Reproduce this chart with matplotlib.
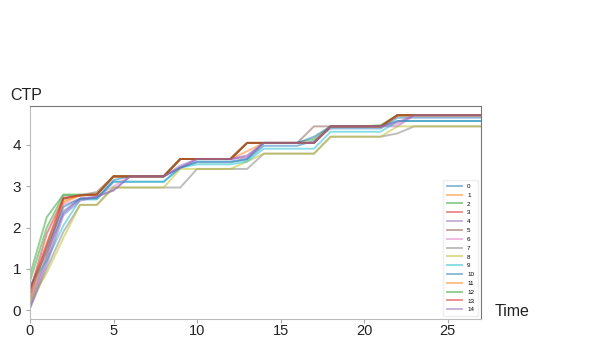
import numpy as np
import matplotlib.pyplot as plt

plt.rcParams['font.family'] = ['Liberation Sans', 'DejaVu Sans']

time = list(range(28))
labels = [str(i) for i in range(15)]

s0 = [0.55, 1.4, 2.35, 2.7, 2.7, 3.11, 3.11, 3.11, 3.11, 3.45, 3.58, 3.58, 3.58, 3.65, 3.98, 3.98, 3.98, 4.1, 4.4, 4.4, 4.4, 4.4, 4.66, 4.66, 4.66, 4.66, 4.66, 4.66]
s1 = [0.3, 1.5, 2.6, 2.78, 2.8, 3.24, 3.24, 3.24, 3.24, 3.66, 3.66, 3.66, 3.66, 3.85, 4.05, 4.05, 4.05, 4.05, 4.45, 4.45, 4.45, 4.45, 4.72, 4.72, 4.72, 4.72, 4.72, 4.72]
s2 = [0.85, 2.25, 2.8, 2.8, 2.8, 3.24, 3.24, 3.24, 3.24, 3.66, 3.66, 3.66, 3.66, 4.05, 4.05, 4.05, 4.05, 4.15, 4.45, 4.45, 4.45, 4.48, 4.72, 4.72, 4.72, 4.72, 4.72, 4.72]
s3 = [0.45, 1.85, 2.7, 2.78, 2.8, 3.24, 3.24, 3.24, 3.24, 3.66, 3.66, 3.66, 3.66, 4.05, 4.05, 4.05, 4.05, 4.05, 4.45, 4.45, 4.45, 4.45, 4.72, 4.72, 4.72, 4.72, 4.72, 4.72]
s4 = [0.1, 1.2, 2.4, 2.7, 2.75, 2.9, 3.24, 3.24, 3.24, 3.5, 3.66, 3.66, 3.66, 3.7, 4.05, 4.05, 4.05, 4.05, 4.45, 4.45, 4.45, 4.45, 4.45, 4.72, 4.72, 4.72, 4.72, 4.72]
s5 = [0.2, 1.3, 2.7, 2.78, 2.86, 3.24, 3.24, 3.24, 3.24, 3.66, 3.66, 3.66, 3.66, 4.05, 4.05, 4.05, 4.05, 4.45, 4.45, 4.45, 4.45, 4.45, 4.72, 4.72, 4.72, 4.72, 4.72, 4.72]
s6 = [0.3, 1.35, 2.55, 2.7, 2.75, 3.0, 3.24, 3.24, 3.24, 3.45, 3.66, 3.66, 3.66, 3.72, 4.05, 4.05, 4.05, 4.05, 4.45, 4.45, 4.45, 4.45, 4.5, 4.72, 4.72, 4.72, 4.72, 4.72]
s7 = [0.05, 1.0, 1.9, 2.55, 2.55, 2.97, 2.97, 2.97, 2.97, 2.97, 3.42, 3.42, 3.42, 3.42, 3.79, 3.79, 3.79, 3.79, 4.2, 4.2, 4.2, 4.2, 4.28, 4.45, 4.45, 4.45, 4.45, 4.45]
s8 = [0.2, 0.9, 1.75, 2.55, 2.55, 2.97, 2.97, 2.97, 2.97, 3.42, 3.42, 3.42, 3.42, 3.6, 3.79, 3.79, 3.79, 3.79, 4.2, 4.2, 4.2, 4.2, 4.45, 4.45, 4.45, 4.45, 4.45, 4.45]
s9 = [0.6, 1.2, 2.05, 2.68, 2.68, 3.11, 3.11, 3.11, 3.11, 3.45, 3.53, 3.53, 3.53, 3.6, 3.91, 3.91, 3.91, 3.91, 4.32, 4.32, 4.32, 4.32, 4.58, 4.58, 4.58, 4.58, 4.58, 4.58]
s10 = [0.4, 1.5, 2.5, 2.7, 2.72, 3.15, 3.24, 3.24, 3.24, 3.45, 3.6, 3.6, 3.6, 3.66, 4.05, 4.05, 4.05, 4.2, 4.45, 4.45, 4.45, 4.45, 4.58, 4.58, 4.58, 4.58, 4.58, 4.58]
s11 = [0.35, 1.6, 2.65, 2.78, 2.8, 3.24, 3.24, 3.24, 3.24, 3.66, 3.66, 3.66, 3.66, 4.05, 4.05, 4.05, 4.05, 4.05, 4.45, 4.45, 4.45, 4.45, 4.72, 4.72, 4.72, 4.72, 4.72, 4.72]
s12 = [0.7, 2.0, 2.78, 2.78, 2.8, 3.24, 3.24, 3.24, 3.24, 3.66, 3.66, 3.66, 3.66, 4.05, 4.05, 4.05, 4.05, 4.05, 4.45, 4.45, 4.45, 4.45, 4.72, 4.72, 4.72, 4.72, 4.72, 4.72]
s13 = [0.5, 1.6, 2.72, 2.78, 2.8, 3.24, 3.24, 3.24, 3.24, 3.66, 3.66, 3.66, 3.66, 4.05, 4.05, 4.05, 4.05, 4.05, 4.45, 4.45, 4.45, 4.45, 4.72, 4.72, 4.72, 4.72, 4.72, 4.72]
s14 = [0.05, 1.1, 2.3, 2.65, 2.75, 2.9, 3.24, 3.24, 3.24, 3.45, 3.66, 3.66, 3.66, 3.75, 4.05, 4.05, 4.05, 4.05, 4.45, 4.45, 4.45, 4.45, 4.55, 4.72, 4.72, 4.72, 4.72, 4.72]

series = [s0, s1, s2, s3, s4, s5, s6, s7, s8, s9, s10, s11, s12, s13, s14]

fig = plt.figure(figsize=(6.06, 3.38), dpi=100)
ax = fig.add_axes([0.0495, 0.0553, 0.7442, 0.6307])

for i, s in enumerate(series):
    ax.plot(time, s, label=labels[i], alpha=0.5, lw=1.4)

ax.set_xlim(0, 27)
ax.set_ylim(-0.22, 4.94)
ax.set_xticks([0, 5, 10, 15, 20, 25])
ax.set_yticks([0, 1, 2, 3, 4])
ax.tick_params(labelsize=11, length=3, color='#aaaaaa', labelcolor='#222222')
ax.tick_params(axis='x', labelsize=10.5, pad=0.5)
for side in ['left', 'bottom']:
    ax.spines[side].set_color('#bbbbbb')
for side in ['top', 'right']:
    ax.spines[side].set_color('#777777')

ax.legend(loc='lower right', fontsize=4.5, handlelength=2.4, labelspacing=0.55,
          borderpad=0.6, frameon=True, edgecolor='#eeeeee', framealpha=1)

fig.text(0.017, 0.716, 'CTP', fontsize=11.5, va='center', color='#222222')
fig.text(0.817, 0.077, 'Time', fontsize=11.5, va='center', color='#222222')

fig.savefig('out.png', dpi=100)
